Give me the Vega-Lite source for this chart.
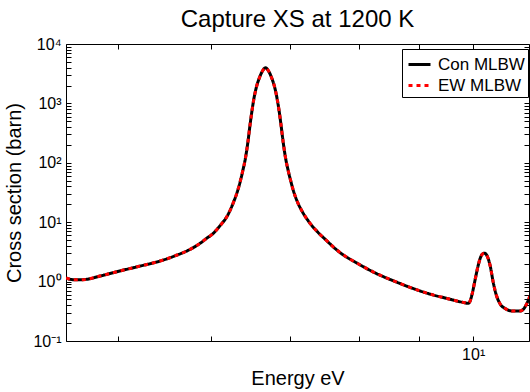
{
  "$schema": "https://vega.github.io/schema/vega-lite/v6.json",
  "width": 463,
  "height": 297,
  "autosize": {"type": "none"},
  "padding": {"left": 66, "top": 44, "right": 1, "bottom": 51},
  "background": "white",
  "title": {"text": "Capture XS at 1200 K", "fontSize": 24, "font": "Liberation Sans", "fontWeight": "normal", "color": "black", "offset": 4, "anchor": "middle"},
  "config": {
    "view": {"stroke": null},
    "axis": {
      "grid": false,
      "domainColor": "black",
      "domainWidth": 1,
      "tickColor": "black",
      "tickSize": -5,
      "tickWidth": 1,
      "labelFont": "Liberation Sans",
      "labelFontSize": 16,
      "labelColor": "black",
      "labelOverlap": false,
      "labelFlush": false,
      "titleFont": "Liberation Sans",
      "titleFontSize": 20,
      "titleFontWeight": "normal",
      "titleColor": "black"
    }
  },
  "data": {
    "values": [
      {"E": 4.52, "Con MLBW": 1.15, "EW MLBW": 1.15},
      {"E": 4.56, "Con MLBW": 1.09, "EW MLBW": 1.09},
      {"E": 4.61, "Con MLBW": 1.07, "EW MLBW": 1.07},
      {"E": 4.70, "Con MLBW": 1.09, "EW MLBW": 1.09},
      {"E": 4.83, "Con MLBW": 1.24, "EW MLBW": 1.24},
      {"E": 5.02, "Con MLBW": 1.51, "EW MLBW": 1.51},
      {"E": 5.22, "Con MLBW": 1.82, "EW MLBW": 1.82},
      {"E": 5.43, "Con MLBW": 2.22, "EW MLBW": 2.22},
      {"E": 5.60, "Con MLBW": 2.75, "EW MLBW": 2.75},
      {"E": 5.72, "Con MLBW": 3.27, "EW MLBW": 3.27},
      {"E": 5.85, "Con MLBW": 4.2, "EW MLBW": 4.2},
      {"E": 5.95, "Con MLBW": 5.4, "EW MLBW": 5.4},
      {"E": 6.03, "Con MLBW": 6.6, "EW MLBW": 6.6},
      {"E": 6.10, "Con MLBW": 8.6, "EW MLBW": 8.6},
      {"E": 6.19, "Con MLBW": 12.7, "EW MLBW": 12.7},
      {"E": 6.268, "Con MLBW": 22, "EW MLBW": 22},
      {"E": 6.311, "Con MLBW": 32, "EW MLBW": 32},
      {"E": 6.348, "Con MLBW": 48, "EW MLBW": 48},
      {"E": 6.377, "Con MLBW": 70, "EW MLBW": 70},
      {"E": 6.414, "Con MLBW": 120, "EW MLBW": 120},
      {"E": 6.444, "Con MLBW": 220, "EW MLBW": 220},
      {"E": 6.473, "Con MLBW": 450, "EW MLBW": 450},
      {"E": 6.496, "Con MLBW": 750, "EW MLBW": 750},
      {"E": 6.518, "Con MLBW": 1150, "EW MLBW": 1150},
      {"E": 6.551, "Con MLBW": 1850, "EW MLBW": 1850},
      {"E": 6.591, "Con MLBW": 2700, "EW MLBW": 2700},
      {"E": 6.630, "Con MLBW": 3500, "EW MLBW": 3500},
      {"E": 6.670, "Con MLBW": 3980, "EW MLBW": 3980},
      {"E": 6.710, "Con MLBW": 3500, "EW MLBW": 3500},
      {"E": 6.750, "Con MLBW": 2700, "EW MLBW": 2700},
      {"E": 6.791, "Con MLBW": 1850, "EW MLBW": 1850},
      {"E": 6.825, "Con MLBW": 1150, "EW MLBW": 1150},
      {"E": 6.849, "Con MLBW": 750, "EW MLBW": 750},
      {"E": 6.873, "Con MLBW": 450, "EW MLBW": 450},
      {"E": 6.904, "Con MLBW": 220, "EW MLBW": 220},
      {"E": 6.936, "Con MLBW": 120, "EW MLBW": 120},
      {"E": 6.976, "Con MLBW": 70, "EW MLBW": 70},
      {"E": 7.009, "Con MLBW": 48, "EW MLBW": 48},
      {"E": 7.049, "Con MLBW": 32, "EW MLBW": 32},
      {"E": 7.098, "Con MLBW": 22, "EW MLBW": 22},
      {"E": 7.16, "Con MLBW": 15.5, "EW MLBW": 15.5},
      {"E": 7.25, "Con MLBW": 10.5, "EW MLBW": 10.5},
      {"E": 7.36, "Con MLBW": 7.3, "EW MLBW": 7.3},
      {"E": 7.49, "Con MLBW": 5.2, "EW MLBW": 5.2},
      {"E": 7.71, "Con MLBW": 3.1, "EW MLBW": 3.1},
      {"E": 7.99, "Con MLBW": 2.0, "EW MLBW": 2.0},
      {"E": 8.26, "Con MLBW": 1.4, "EW MLBW": 1.4},
      {"E": 8.54, "Con MLBW": 1.05, "EW MLBW": 1.05},
      {"E": 8.84, "Con MLBW": 0.80, "EW MLBW": 0.80},
      {"E": 9.16, "Con MLBW": 0.63, "EW MLBW": 0.63},
      {"E": 9.50, "Con MLBW": 0.52, "EW MLBW": 0.52},
      {"E": 9.84, "Con MLBW": 0.44, "EW MLBW": 0.44},
      {"E": 9.90, "Con MLBW": 0.43, "EW MLBW": 0.43},
      {"E": 9.94, "Con MLBW": 0.47, "EW MLBW": 0.47},
      {"E": 9.98, "Con MLBW": 0.62, "EW MLBW": 0.62},
      {"E": 10.04, "Con MLBW": 1.1, "EW MLBW": 1.1},
      {"E": 10.10, "Con MLBW": 1.9, "EW MLBW": 1.9},
      {"E": 10.14, "Con MLBW": 2.5, "EW MLBW": 2.5},
      {"E": 10.18, "Con MLBW": 2.9, "EW MLBW": 2.9},
      {"E": 10.22, "Con MLBW": 3.0, "EW MLBW": 3.0},
      {"E": 10.26, "Con MLBW": 2.85, "EW MLBW": 2.85},
      {"E": 10.30, "Con MLBW": 2.4, "EW MLBW": 2.4},
      {"E": 10.34, "Con MLBW": 1.8, "EW MLBW": 1.8},
      {"E": 10.40, "Con MLBW": 0.96, "EW MLBW": 0.96},
      {"E": 10.46, "Con MLBW": 0.6, "EW MLBW": 0.6},
      {"E": 10.54, "Con MLBW": 0.42, "EW MLBW": 0.42},
      {"E": 10.65, "Con MLBW": 0.35, "EW MLBW": 0.35},
      {"E": 10.79, "Con MLBW": 0.32, "EW MLBW": 0.32},
      {"E": 10.96, "Con MLBW": 0.32, "EW MLBW": 0.32},
      {"E": 11.05, "Con MLBW": 0.36, "EW MLBW": 0.36},
      {"E": 11.11, "Con MLBW": 0.44, "EW MLBW": 0.44},
      {"E": 11.17, "Con MLBW": 0.57, "EW MLBW": 0.57}
    ]
  },
  "transform": [{"fold": ["Con MLBW", "EW MLBW"], "as": ["series", "xs"]}],
  "layer": [
    {
      "mark": {"type": "line", "strokeWidth": 3, "clip": true, "interpolate": "monotone"},
      "encoding": {
        "x": {
          "field": "E", "type": "quantitative",
          "scale": {"type": "log", "domain": [4.52, 11.15], "nice": false},
          "axis": {
            "orient": "bottom",
            "values": [5, 6, 7, 8, 9, 10],
            "labelExpr": "datum.value == 10 ? '10¹' : ''",
            "labelPadding": 10,
            "title": "Energy eV",
            "titlePadding": 6
          }
        },
        "y": {
          "field": "xs", "type": "quantitative",
          "scale": {"type": "log", "domain": [0.1, 10000], "nice": false},
          "axis": {
            "orient": "left",
            "values": [0.1, 0.2, 0.3, 0.4, 0.5, 0.6, 0.7, 0.8, 0.9, 1, 2, 3, 4, 5, 6, 7, 8, 9, 10, 20, 30, 40, 50, 60, 70, 80, 90, 100, 200, 300, 400, 500, 600, 700, 800, 900, 1000, 2000, 3000, 4000, 5000, 6000, 7000, 8000, 9000, 10000],
            "labelExpr": "datum.value == 0.1 ? '10⁻¹' : datum.value == 1 ? '10⁰' : datum.value == 10 ? '10¹' : datum.value == 100 ? '10²' : datum.value == 1000 ? '10³' : datum.value == 10000 ? '10⁴' : ''",
            "labelPadding": 10,
            "title": "Cross section (barn)",
            "titlePadding": 8
          }
        },
        "color": {
          "field": "series", "type": "nominal",
          "scale": {"domain": ["Con MLBW", "EW MLBW"], "range": ["#000000", "#ff0000"]},
          "legend": {
            "orient": "none", "legendX": 336, "legendY": 5, "title": null,
            "fillColor": "white", "strokeColor": "black", "padding": 3, "rowPadding": 0,
            "symbolType": "stroke", "symbolSize": 484, "symbolStrokeWidth": 3, "symbolOffset": 2,
            "labelFont": "Liberation Sans", "labelFontSize": 17, "labelColor": "black", "labelOffset": 6
          }
        },
        "strokeDash": {
          "field": "series", "type": "nominal",
          "scale": {"domain": ["Con MLBW", "EW MLBW"], "range": [[1, 0], [4, 4]]},
          "legend": {
            "orient": "none", "legendX": 336, "legendY": 5, "title": null,
            "fillColor": "white", "strokeColor": "black", "padding": 3, "rowPadding": 0,
            "symbolType": "stroke", "symbolSize": 484, "symbolStrokeWidth": 3, "symbolOffset": 2,
            "labelFont": "Liberation Sans", "labelFontSize": 17, "labelColor": "black", "labelOffset": 6
          }
        }
      }
    },
    {
      "mark": {"type": "line", "opacity": 0, "clip": true},
      "encoding": {
        "x": {
          "field": "E", "type": "quantitative",
          "axis": {"orient": "top", "values": [5, 6, 7, 8, 9, 10], "labels": false, "title": null}
        },
        "y": {
          "field": "xs", "type": "quantitative",
          "axis": {
            "orient": "right",
            "values": [0.1, 0.2, 0.3, 0.4, 0.5, 0.6, 0.7, 0.8, 0.9, 1, 2, 3, 4, 5, 6, 7, 8, 9, 10, 20, 30, 40, 50, 60, 70, 80, 90, 100, 200, 300, 400, 500, 600, 700, 800, 900, 1000, 2000, 3000, 4000, 5000, 6000, 7000, 8000, 9000, 10000],
            "labels": false, "title": null
          }
        },
        "detail": {"field": "series"}
      }
    }
  ],
  "resolve": {"axis": {"x": "independent", "y": "independent"}}
}
